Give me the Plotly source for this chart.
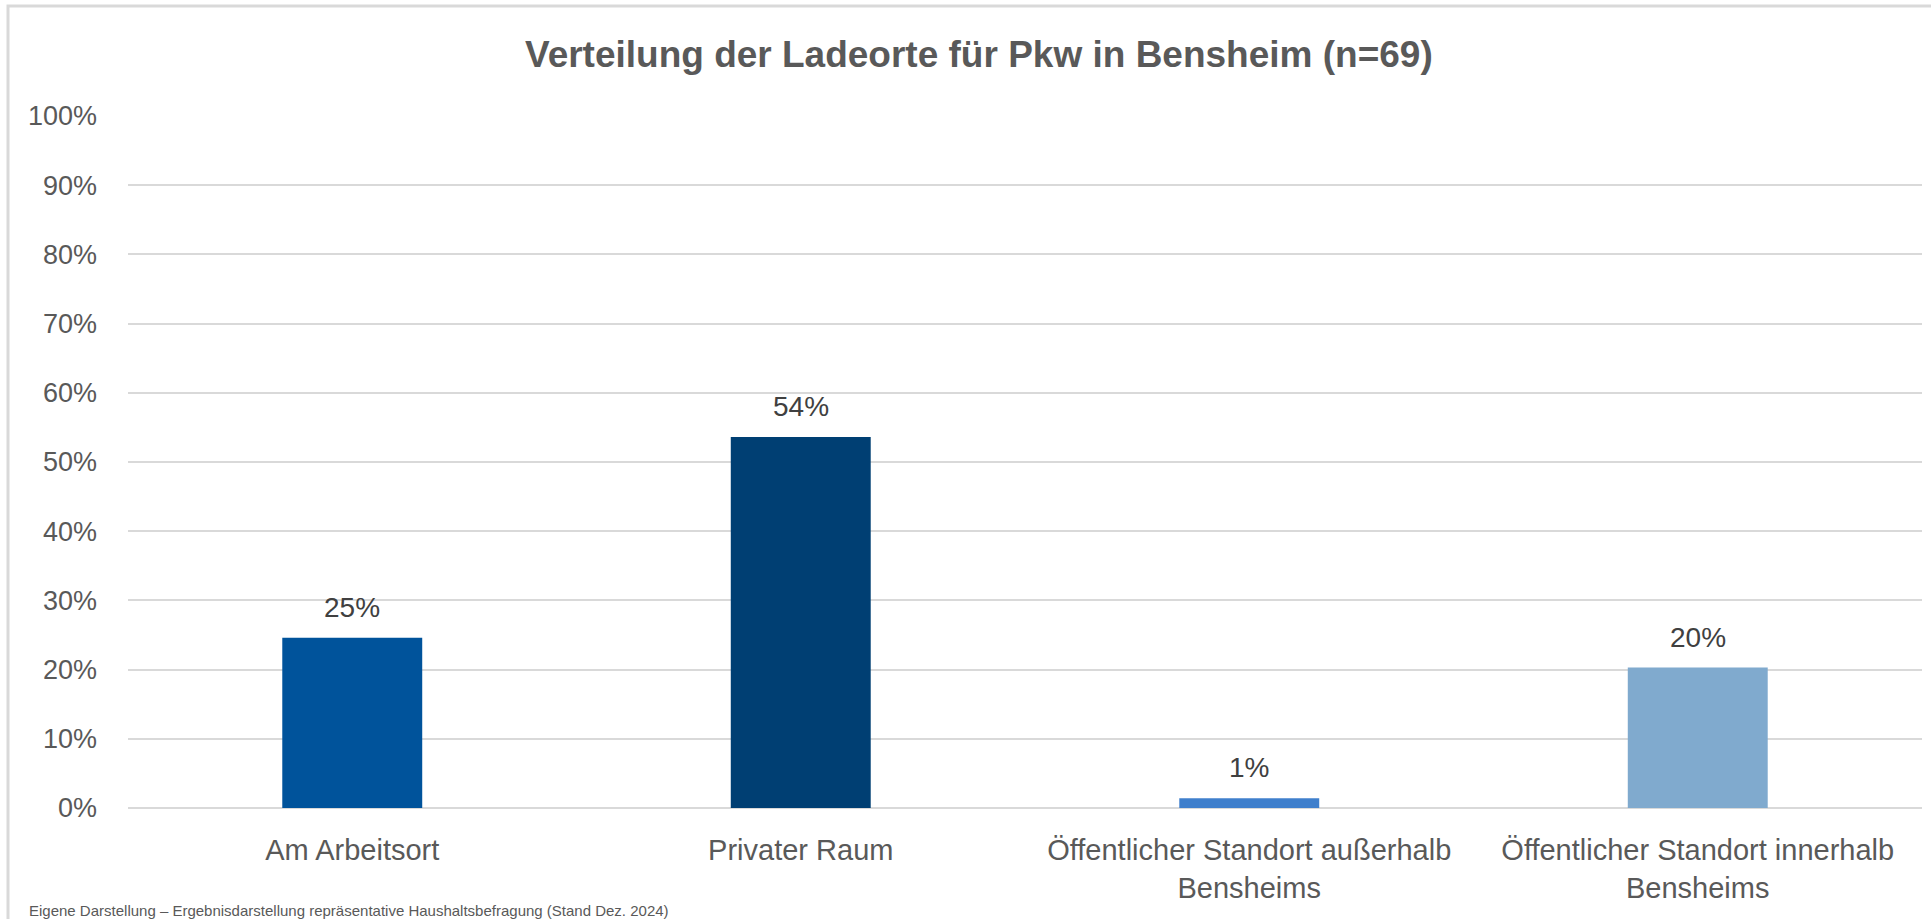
import plotly.graph_objects as go

categories = [
    "Am Arbeitsort",
    "Privater Raum",
    "Öffentlicher Standort außerhalb<br>Bensheims",
    "Öffentlicher Standort innerhalb<br>Bensheims",
]
values = [0.246, 0.536, 0.014, 0.203]
colors = ["#00539B", "#003F73", "#3F7FCC", "#80AACE"]
tick_vals = [i / 10 for i in range(11)]
title_text = "Verteilung der Ladeorte für Pkw in Bensheim (n=69)"
footer_text = "Eigene Darstellung – Ergebnisdarstellung repräsentative Haushaltsbefragung (Stand Dez. 2024)"

W, H = 1931, 919
L, R, T, B = 128, 9, 116, 111
pw, ph = W - L - R, H - T - B


def px_x(x):
    return (x - L) / pw


def px_y(y):
    return (H - B - y) / ph


fig = go.Figure()
fig.add_trace(go.Bar(
    x=categories, y=values, marker=dict(color=colors, line=dict(width=0)),
    hoverinfo="skip",
))

for c, v in zip(categories, values):
    fig.add_annotation(
        x=c, y=v, xref="x", yref="y", text=f"{v*100:.0f}%",
        showarrow=False, yanchor="bottom", yshift=13,
        font=dict(family="Liberation Sans, Arial, sans-serif", size=28, color="#404040"),
    )

fig.add_annotation(
    x=px_x(979), y=px_y(55), xref="paper", yref="paper",
    text=f"<b>{title_text}</b>", showarrow=False, xanchor="center", yanchor="middle",
    font=dict(family="Liberation Sans, Arial, sans-serif", size=37, color="#595959"),
)
fig.add_annotation(
    x=px_x(27), y=px_y(910), xref="paper", yref="paper",
    text=footer_text, showarrow=False, xanchor="left", yanchor="middle",
    font=dict(family="Liberation Sans, Arial, sans-serif", size=15, color="#595959"),
)

fig.add_shape(
    type="rect", xref="paper", yref="paper",
    x0=px_x(8), x1=px_x(W + 20),
    y0=px_y(H + 20), y1=px_y(6),
    line=dict(color="#D9D9D9", width=3), fillcolor="rgba(0,0,0,0)", layer="below",
)

fig.update_layout(
    width=W, height=H,
    margin=dict(l=L, r=R, t=T, b=B, pad=0),
    paper_bgcolor="white", plot_bgcolor="white",
    bargap=0.688, showlegend=False,
    xaxis=dict(
        showgrid=False, showline=False, zeroline=False, ticks="",
        tickfont=dict(family="Liberation Sans, Arial, sans-serif", size=29, color="#595959"),
        ticklabelstandoff=22,
    ),
    yaxis=dict(
        range=[0, 1], tickvals=tick_vals, tickformat=".0%",
        showgrid=True, gridcolor="#D9D9D9", gridwidth=2,
        zeroline=True, zerolinecolor="#D9D9D9", zerolinewidth=2,
        showline=False, ticks="",
        tickfont=dict(family="Liberation Sans, Arial, sans-serif", size=27, color="#595959"),
        ticklabelstandoff=30,
    ),
)

fig.write_html(
    "out.html",
    config={"displayModeBar": False},
    post_script="document.body.style.margin='0';document.body.style.overflow='hidden';",
)
